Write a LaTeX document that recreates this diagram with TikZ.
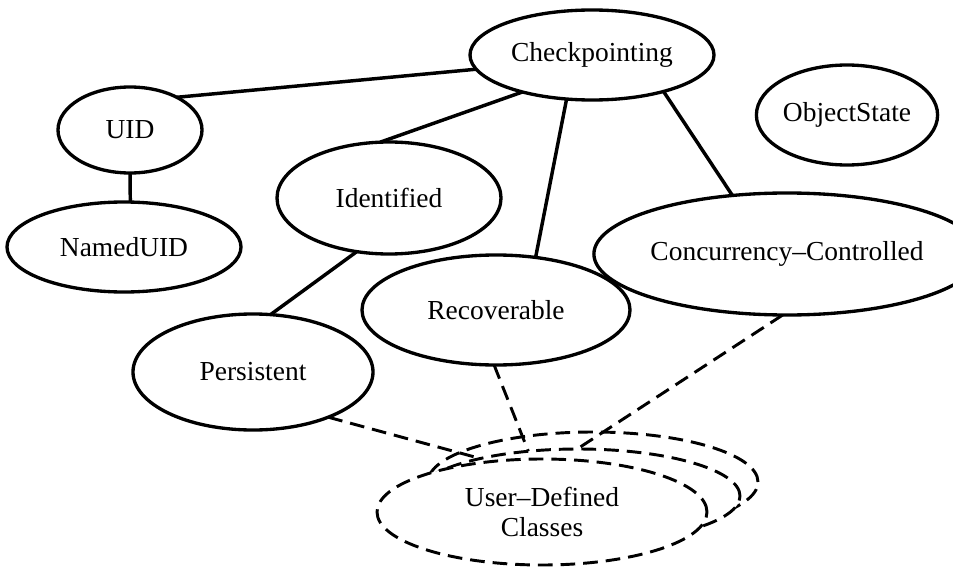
\documentclass[tikz,border=0pt]{standalone}
\usepackage{fontspec}
\setmainfont{Liberation Serif}
\usetikzlibrary{shapes.geometric}

\tikzset{
  ell/.style={ellipse, draw, line width=2.5pt, inner sep=0pt, outer sep=0pt,
    fill=white, font=\fontsize{20.6}{24}\selectfont},
  dashell/.style={ell, line width=2.2pt, dash pattern=on 11pt off 6pt},
  link/.style={line width=2.6pt},
  dlink/.style={line width=2.2pt, dash pattern=on 11pt off 6pt},
}

\begin{document}
\begin{tikzpicture}[x=0.75pt, y=-0.75pt]
  % canvas
  \path[use as bounding box, fill=white] (0,0) rectangle (953,567);

  % class hierarchy
  \node[ell, minimum width=183pt, minimum height=67.5pt] (ckpt) at (592,55) {Checkpointing};
  \node[ell, minimum width=127.5pt, minimum height=75pt] (objst) at (847,115) {ObjectState};
  \node[ell, minimum width=108pt, minimum height=64.5pt] (uid) at (130,130) {UID};
  \node[ell, minimum width=175.5pt, minimum height=67.5pt] (nuid) at (124,247) {NamedUID};
  \node[ell, minimum width=168pt, minimum height=84pt] (ident) at (389,198) {Identified};
  \node[ell, minimum width=247.5pt, minimum height=91.5pt] (conc) at (787,254) {Concurrency--Controlled};
  \node[ell, minimum width=201pt, minimum height=82.5pt] (recov) at (496,310) {Recoverable};
  \node[ell, minimum width=180pt, minimum height=87pt] (pers) at (253,372) {Persistent};

  % stack of user-defined classes
  \node[dashell, minimum width=247.5pt, minimum height=75pt] (udcback) at (593,482) {};
  \node[dashell, minimum width=243pt, minimum height=70.5pt] (udcmid) at (578,496) {};
  \node[dashell, minimum width=247.5pt, minimum height=79.5pt, align=center] (udc) at (542,512)
    {User--Defined\\[-1pt]Classes};

  % inheritance links
  \draw[link] (ckpt.187.4) -- (uid.35.3);
  \draw[link] (ckpt.208.3) -- (ident.99.5);
  \draw[link] (ckpt.240.4) -- (recov.53.1);
  \draw[link] (ckpt.333.4) -- (conc.133.6);
  \draw[link] (uid.south) -- (nuid.82.4);
  \draw[link] (ident.239.8) -- (pers.73.9);

  % mix-in links to the user classes
  \draw[dlink] (pers.329) -- (udcmid.159.9);
  \draw[dlink] (recov.268) -- (udcmid.138);
  \draw[dlink] (conc.266) -- (udcmid.91);
\end{tikzpicture}
\end{document}
